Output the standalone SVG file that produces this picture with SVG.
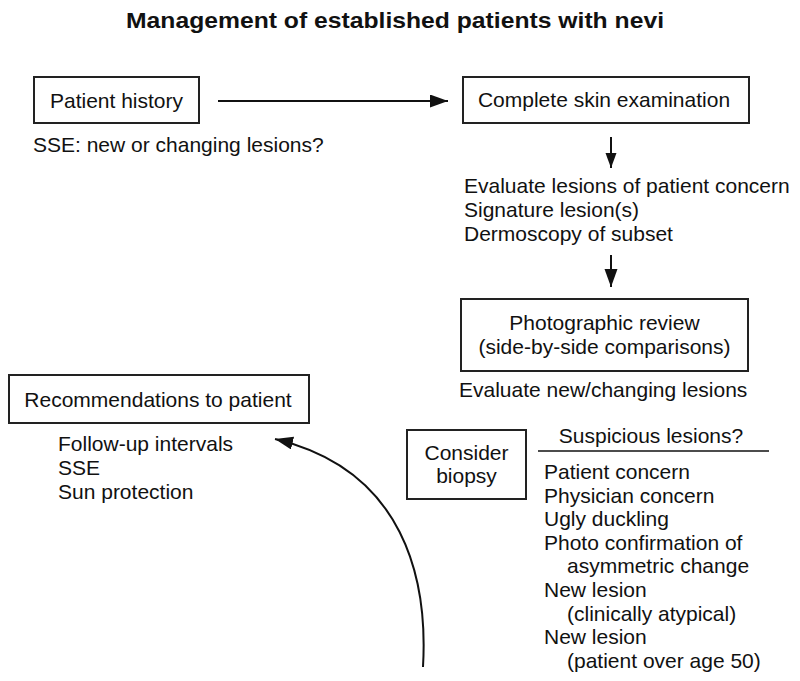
<svg xmlns="http://www.w3.org/2000/svg" width="800" height="681" viewBox="0 0 800 681">
<style>
text{font-family:"Liberation Sans",Arial,Helvetica,sans-serif;font-size:21px;fill:#111}
.title{font-weight:bold;font-size:21.5px}
.c{text-anchor:middle}
.box{fill:#fff;stroke:#222;stroke-width:2}
.conn{fill:none;stroke:#111;stroke-width:2}
</style>
<defs>
<marker id="ah" markerUnits="userSpaceOnUse" markerWidth="20" markerHeight="14" refX="18" refY="6.5" orient="auto">
<path d="M0,0 L18,6.5 L0,13 z" fill="#111"/>
</marker>
<marker id="ahs" markerUnits="userSpaceOnUse" markerWidth="16" markerHeight="12" refX="15" refY="5.5" orient="auto">
<path d="M0,0 L15,5.5 L0,11 z" fill="#111"/>
</marker>
</defs>
<rect width="800" height="681" fill="#fff"/>
<text class="title c" x="395" y="28" textLength="538" lengthAdjust="spacingAndGlyphs">Management of established patients with nevi</text>

<g id="connectors">
<line class="conn" x1="218" y1="101" x2="448" y2="101" marker-end="url(#ah)"/>
<line class="conn" x1="611" y1="137" x2="611" y2="168" marker-end="url(#ahs)"/>
<line class="conn" x1="611" y1="255" x2="611" y2="287" marker-end="url(#ah)"/>
<path class="conn" d="M423,667 C428,580 405,470 275,439" marker-end="url(#ah)"/>
</g>

<g id="patient-history">
<rect class="box" x="34" y="77" width="165" height="46"/>
<text class="c" x="116.5" y="108">Patient history</text>
</g>
<g id="sse-note">
<text x="33" y="152">SSE: new or changing lesions?</text>
</g>

<g id="skin-exam">
<rect class="box" x="463" y="77" width="286" height="46"/>
<text class="c" x="604" y="107">Complete skin examination</text>
</g>

<g id="evaluate">
<text x="464" y="193">Evaluate lesions of patient concern</text>
<text x="464" y="217">Signature lesion(s)</text>
<text x="464" y="241">Dermoscopy of subset</text>
</g>

<g id="photo-review">
<rect class="box" x="461" y="299" width="287" height="72"/>
<text class="c" x="604.5" y="330">Photographic review</text>
<text class="c" x="604.5" y="354">(side-by-side comparisons)</text>
</g>
<g id="evaluate-new">
<text x="459" y="397">Evaluate new/changing lesions</text>
</g>

<g id="recommendations">
<rect class="box" x="9" y="375" width="300" height="48"/>
<text class="c" x="158" y="407">Recommendations to patient</text>
<text x="58" y="451">Follow-up intervals</text>
<text x="58" y="475">SSE</text>
<text x="58" y="499">Sun protection</text>
</g>

<g id="consider-biopsy">
<rect class="box" x="407" y="430" width="119" height="69"/>
<text class="c" x="466.5" y="460">Consider</text>
<text class="c" x="466.5" y="483">biopsy</text>
</g>

<g id="suspicious">
<text class="c" x="651" y="443">Suspicious lesions?</text>
<line x1="538" y1="451" x2="769" y2="451" stroke="#111" stroke-width="1.6"/>
<text x="544" y="479">Patient concern</text>
<text x="544" y="502.6">Physician concern</text>
<text x="544" y="526.2">Ugly duckling</text>
<text x="544" y="549.8">Photo confirmation of</text>
<text x="567" y="573.4">asymmetric change</text>
<text x="544" y="597">New lesion</text>
<text x="567" y="620.6">(clinically atypical)</text>
<text x="544" y="644.2">New lesion</text>
<text x="567" y="667.8">(patient over age 50)</text>
</g>
</svg>
